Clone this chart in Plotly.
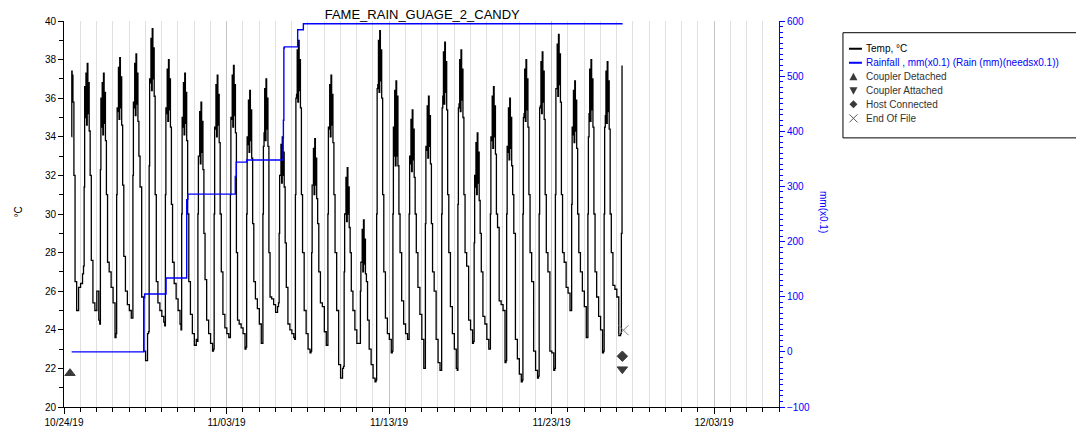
import pandas as pd
import plotly.graph_objects as go

START = pd.Timestamp("2019-10-24 00:00")
chart_title = "FAME_RAIN_GUAGE_2_CANDY"

# ---- Temperature, degC (time in days since 10/24/19 00:00) ----
# first partial day
temp_start_day = [0.47, 0.48, 0.50, 0.52, 0.55, 0.61, 0.68, 0.78, 0.90, 1.02, 1.14]
temp_start_c = [34.0, 37.4, 36.0, 37.2, 35.8, 32.0, 26.5, 25.0, 26.2, 26.4, 26.9]
# sampling offsets within each daily cycle (fraction of day after midnight)
cycle_offsets = [0.20, 0.24, 0.27, 0.31, 0.35, 0.39, 0.43, 0.47, 0.51, 0.55, 0.61, 0.68, 0.78, 0.90, 1.02, 1.14]
# readings for days 1..33 (one line per day, at the offsets above)
temp_cycle_c = [
    27.3, 31.4, 36.6, 35.0, 37.3, 34.6, 37.8, 35.2, 36.8, 34.3, 32.0, 27.6, 25.4, 25.0, 26.0, 24.5,
    24.3, 32.3, 36.0, 34.5, 36.8, 34.1, 37.3, 34.7, 36.3, 33.8, 31.0, 27.5, 27.0, 26.2, 25.4, 23.6,
    23.8, 31.0, 35.5, 35.3, 37.6, 34.9, 38.1, 35.5, 37.1, 34.6, 31.5, 27.8, 26.0, 25.3, 25.0, 24.6,
    24.6, 32.0, 35.8, 35.5, 37.8, 35.1, 38.3, 35.7, 37.3, 34.8, 33.0, 31.4, 25.7, 22.9, 22.4, 23.8,
    23.9, 32.5, 37.0, 36.8, 39.1, 36.4, 39.6, 37.0, 38.6, 36.1, 31.0, 26.5, 25.4, 25.0, 24.7, 24.4,
    24.2, 31.0, 35.5, 35.2, 37.5, 34.8, 38.0, 35.4, 37.0, 34.5, 30.5, 27.5, 26.4, 25.6, 25.0, 24.3,
    24.0, 30.0, 35.0, 34.5, 36.8, 34.1, 37.3, 34.7, 36.3, 33.8, 30.0, 26.5, 24.8, 23.8, 23.2, 23.5,
    23.4, 30.0, 33.0, 33.0, 35.3, 32.6, 35.8, 33.2, 34.8, 32.3, 29.0, 26.6, 24.5, 23.8, 23.3, 22.9,
    23.0, 30.0, 34.5, 34.4, 36.7, 34.0, 37.2, 34.6, 36.2, 33.7, 30.0, 27.0, 24.8, 24.1, 23.8, 23.6,
    23.6, 31.0, 35.0, 34.9, 37.2, 34.5, 37.7, 35.1, 36.7, 34.2, 28.0, 24.5, 24.3, 24.1, 23.8, 23.0,
    23.1, 30.0, 34.0, 33.6, 35.9, 33.2, 36.4, 33.8, 35.4, 32.9, 29.5, 26.5, 25.6, 25.1, 24.3, 23.3,
    23.3, 30.0, 33.5, 34.2, 36.5, 33.8, 37.0, 34.4, 36.0, 33.5, 28.0, 25.7, 25.6, 25.3, 24.9, 25.2,
    25.4, 29.0, 32.0, 32.0, 33.6, 31.6, 34.0, 32.0, 33.2, 31.4, 28.5, 26.2, 24.3, 24.0, 23.8, 23.6,
    23.5, 31.0, 36.0, 36.2, 38.5, 35.8, 39.0, 36.4, 38.0, 35.5, 31.0, 28.0, 25.0, 23.8, 23.0, 22.8,
    22.9, 28.0, 31.5, 31.5, 33.4, 31.0, 33.9, 31.5, 32.9, 30.8, 29.5, 27.0, 25.4, 25.2, 23.9, 23.2,
    23.2, 30.0, 34.5, 34.4, 36.7, 34.0, 37.2, 34.6, 36.2, 33.7, 31.0, 28.0, 25.0, 22.2, 21.5, 22.0,
    22.1, 27.0, 30.0, 30.0, 31.9, 29.6, 32.4, 30.0, 31.4, 29.3, 28.0, 26.0, 25.0, 24.0, 23.3, 23.3,
    23.3, 26.0, 27.5, 27.5, 29.2, 27.0, 29.7, 27.4, 28.7, 26.9, 26.5, 24.5, 23.0, 22.2, 21.5, 21.3,
    21.4, 30.0, 36.5, 36.7, 39.0, 36.3, 39.5, 36.9, 38.5, 36.0, 31.0, 27.0, 24.6, 23.8, 23.5, 22.8,
    22.9, 30.0, 34.5, 33.0, 36.4, 32.5, 36.9, 33.0, 36.1, 32.5, 30.0, 28.0, 25.5, 24.3, 23.8, 23.5,
    23.5, 30.0, 33.0, 32.6, 34.9, 32.2, 35.4, 32.8, 34.4, 31.9, 30.0, 28.0, 26.2, 24.8, 23.5, 22.0,
    22.0, 29.5, 33.5, 33.3, 35.6, 32.9, 36.1, 33.5, 35.1, 32.6, 29.5, 27.0, 26.0, 23.5, 22.3, 21.9,
    21.9, 30.0, 35.5, 36.1, 38.4, 35.7, 38.9, 36.3, 37.9, 35.4, 31.0, 28.0, 25.2, 23.8, 23.0, 22.0,
    21.9, 30.5, 35.5, 35.7, 38.0, 35.3, 38.5, 35.9, 37.5, 35.0, 31.0, 28.0, 27.3, 24.5, 24.0, 23.3,
    23.4, 28.5, 32.0, 31.4, 33.7, 31.0, 34.2, 31.6, 33.2, 30.7, 29.0, 27.0, 24.7, 24.3, 23.5, 23.0,
    23.0, 30.0, 34.0, 33.8, 36.1, 33.4, 36.6, 34.0, 35.6, 33.1, 30.0, 29.3, 25.5, 25.3, 25.0, 22.3,
    22.4, 30.0, 33.5, 33.2, 35.5, 32.8, 36.0, 33.4, 35.0, 32.5, 31.0, 29.0, 23.5, 22.5, 21.7, 21.3,
    21.4, 30.0, 35.0, 35.2, 37.5, 34.8, 38.0, 35.4, 37.0, 34.5, 31.0, 28.0, 26.5, 22.9, 21.9, 21.5,
    21.6, 30.0, 35.5, 35.6, 37.9, 35.2, 38.4, 35.8, 37.4, 34.9, 31.0, 28.0, 27.0, 22.9, 22.8, 21.9,
    22.0, 31.0, 36.5, 36.5, 38.8, 36.1, 39.3, 36.7, 38.3, 35.8, 31.0, 28.0, 27.5, 26.2, 25.9, 25.0,
    25.0, 30.5, 34.5, 34.1, 36.4, 33.7, 36.9, 34.3, 35.9, 33.4, 30.0, 28.0, 27.0, 26.0, 25.2, 23.6,
    23.6, 30.0, 34.0, 35.2, 37.5, 34.8, 38.0, 35.4, 37.0, 34.5, 30.0, 27.0, 25.7, 24.7, 24.0, 22.8,
    22.9, 30.0, 34.5, 35.1, 37.4, 34.7, 37.9, 35.3, 36.9, 34.4, 30.0, 28.0, 26.3, 26.1, 25.7, 23.7,
]
# last partial day (ends on a rise)
temp_end_day = [34.25, 34.30, 34.34]
temp_end_c = [23.8, 29.0, 37.7]

# ---- Rainfall, mm(x0.1) cumulative ----
rain_day = [0.47, 4.92, 4.96, 6.28, 7.55, 7.62, 10.54, 10.60, 11.24, 13.48, 13.50, 13.53, 13.56, 14.38, 14.73, 34.34]
rain_mm = [0, 98, 105, 134, 276, 286, 318, 344, 348, 388, 420, 551, 553, 584, 595, 596]

# ---- Events (plotted on the degC axis) ----
event_names = ["Coupler Detached", "Coupler Attached", "Host Connected", "End Of File"]
event_day = [0.37, 34.36, 34.36, 34.43]
event_c = [21.75, 21.96, 22.63, 23.98]

# ---- axis ticks ----
x_tick_dates = ["2019-10-24", "2019-11-03", "2019-11-13", "2019-11-23", "2019-12-03"]
x_tick_text = ["10/24/19", "11/03/19", "11/13/19", "11/23/19", "12/03/19"]
x_end_day = 44

# ---------------------------------------------------------------
n_cycles = len(temp_cycle_c) // len(cycle_offsets)
temp_day = list(temp_start_day)
for k in range(1, n_cycles + 1):
    temp_day += [k + o for o in cycle_offsets]
temp_day += temp_end_day
temp_vals = temp_start_c + temp_cycle_c + temp_end_c


def to_dt(days):
    return [START + pd.to_timedelta(d, unit="D") for d in days]


FONT = "Liberation Sans, Arial, sans-serif"
PAGE_W, PAGE_H = 1084, 428
OFF = 8  # default page body margin
W, H = PAGE_W - OFF, PAGE_H - OFF
# plot area in page pixels
PX0, PX1, PY0, PY1 = 63.5, 779, 21.3, 406.7
X0, X1, Y0, Y1 = PX0 - OFF, PX1 - OFF, PY0 - OFF, PY1 - OFF


def fx(px):
    return (px - PX0) / (PX1 - PX0)


def fy(py):
    return (PY1 - py) / (PY1 - PY0)


fig = go.Figure()
fig.add_trace(go.Scatter(x=to_dt(temp_day), y=temp_vals, mode="lines",
                         line=dict(color="black", width=1.3, shape="hv"),
                         name="Temp, °C"))
fig.add_trace(go.Scatter(x=to_dt(rain_day), y=rain_mm, mode="lines", yaxis="y2",
                         line=dict(color="#0000ff", width=1.4, shape="hv"),
                         name="Rainfall , mm(x0.1) (Rain (mm)(needsx0.1))"))
ev_symbols = ["triangle-up", "triangle-down", "diamond", "x-thin-open"]
ev_colors = ["#3a3a3a", "#3a3a3a", "#3a3a3a", "#808080"]
ev_sizes = [9, 9, 8, 10]
for i, nm in enumerate(event_names):
    fig.add_trace(go.Scatter(x=to_dt([event_day[i]]), y=[event_c[i]], mode="markers", name=nm,
                             marker=dict(symbol=ev_symbols[i], color=ev_colors[i], size=ev_sizes[i],
                                         line=dict(color=ev_colors[i], width=1))))

shapes = []
annotations = []
# legend box
shapes.append(dict(type="rect", xref="paper", yref="paper", x0=fx(843), x1=fx(1077), y0=fy(33), y1=fy(138),
                   line=dict(color="black", width=1), fillcolor="white", layer="above"))
rows_y = [49, 63, 77, 91, 104.5, 118.5]
shapes.append(dict(type="line", xref="paper", yref="paper", x0=fx(849), x1=fx(862), y0=fy(rows_y[0]), y1=fy(rows_y[0]),
                   line=dict(color="black", width=2)))
shapes.append(dict(type="line", xref="paper", yref="paper", x0=fx(849), x1=fx(862), y0=fy(rows_y[1]), y1=fy(rows_y[1]),
                   line=dict(color="#0000ff", width=2)))


def path(points):
    return "M " + " L ".join(f"{fx(a):.5f},{fy(b):.5f}" for a, b in points) + " Z"


cx = 853.5
r = rows_y[2]
shapes.append(dict(type="path", xref="paper", yref="paper", path=path([(cx - 4, r + 3.5), (cx + 4, r + 3.5), (cx, r - 4)]),
                   fillcolor="#3a3a3a", line=dict(width=0)))
r = rows_y[3]
shapes.append(dict(type="path", xref="paper", yref="paper", path=path([(cx - 4, r - 3.5), (cx + 4, r - 3.5), (cx, r + 4)]),
                   fillcolor="#3a3a3a", line=dict(width=0)))
r = rows_y[4]
shapes.append(dict(type="path", xref="paper", yref="paper", path=path([(cx, r - 4), (cx + 4, r), (cx, r + 4), (cx - 4, r)]),
                   fillcolor="#3a3a3a", line=dict(width=0)))
r = rows_y[5]
shapes.append(dict(type="line", xref="paper", yref="paper", x0=fx(cx - 4), x1=fx(cx + 4), y0=fy(r - 4), y1=fy(r + 4),
                   line=dict(color="#555555", width=1)))
shapes.append(dict(type="line", xref="paper", yref="paper", x0=fx(cx - 4), x1=fx(cx + 4), y0=fy(r + 4), y1=fy(r - 4),
                   line=dict(color="#555555", width=1)))

legend_texts = ["Temp, °C", "Rainfall , mm(x0.1) (Rain (mm)(needsx0.1))"] + event_names
legend_colors = ["black", "#0000ff", "#333333", "#333333", "#333333", "#333333"]
for t, c, ry in zip(legend_texts, legend_colors, rows_y):
    annotations.append(dict(text=t, xref="paper", yref="paper", x=fx(864), y=fy(ry), xanchor="left",
                            yanchor="middle", showarrow=False, font=dict(family=FONT, size=10, color=c)))

annotations.append(dict(text="°C", xref="paper", yref="paper", x=fx(18), y=fy(212), textangle=-90,
                        showarrow=False, xanchor="center", yanchor="middle",
                        font=dict(family=FONT, size=10, color="black")))
annotations.append(dict(text="mm(x0.1)", xref="paper", yref="paper", x=fx(823), y=fy(212), textangle=90,
                        showarrow=False, xanchor="center", yanchor="middle",
                        font=dict(family=FONT, size=10, color="#0000ff")))

fig.update_layout(
    width=W, height=H,
    margin=dict(l=X0, r=W - X1, t=Y0, b=H - Y1, pad=0, autoexpand=False),
    paper_bgcolor="white", plot_bgcolor="white",
    showlegend=False,
    title=dict(text=chart_title, x=fx(422), xref="paper", xanchor="center", y=1 - (14 - OFF) / H,
               yref="container", yanchor="middle", font=dict(family=FONT, size=13, color="black")),
    font=dict(family=FONT, size=10, color="black"),
    xaxis=dict(type="date", range=[START, START + pd.Timedelta(days=x_end_day)], automargin=False,
               tickvals=x_tick_dates, ticktext=x_tick_text, ticks="outside", ticklen=6,
               tickcolor="black", showline=True, linecolor="black", linewidth=1,
               showgrid=True, gridcolor="#c4c4c4", gridwidth=1, zeroline=False,
               tickfont=dict(family=FONT, size=10, color="black"),
               minor=dict(dtick=86400000, tick0="2019-10-24", ticks="outside", ticklen=4,
                          tickcolor="black", showgrid=True, gridcolor="#e0e0e0", gridwidth=1)),
    yaxis=dict(range=[20, 40], dtick=2, ticks="outside", ticklen=5, tickcolor="black", automargin=False,
               showline=True, linecolor="black", linewidth=1, showgrid=False, zeroline=False,
               tickfont=dict(family=FONT, size=10, color="black"),
               minor=dict(dtick=1, ticks="outside", ticklen=4, tickcolor="black", showgrid=False)),
    yaxis2=dict(range=[-100, 600], dtick=100, overlaying="y", side="right", anchor="x", automargin=False,
                ticks="outside", ticklen=5, tickcolor="#0000ff", showline=True, linecolor="#0000ff",
                linewidth=1, showgrid=False, zeroline=False,
                tickfont=dict(family=FONT, size=10, color="#0000ff"),
                minor=dict(dtick=10, ticks="outside", ticklen=3, tickcolor="#0000ff", showgrid=False)),
    shapes=shapes,
    annotations=annotations,
)

fig.write_html("out.html")
